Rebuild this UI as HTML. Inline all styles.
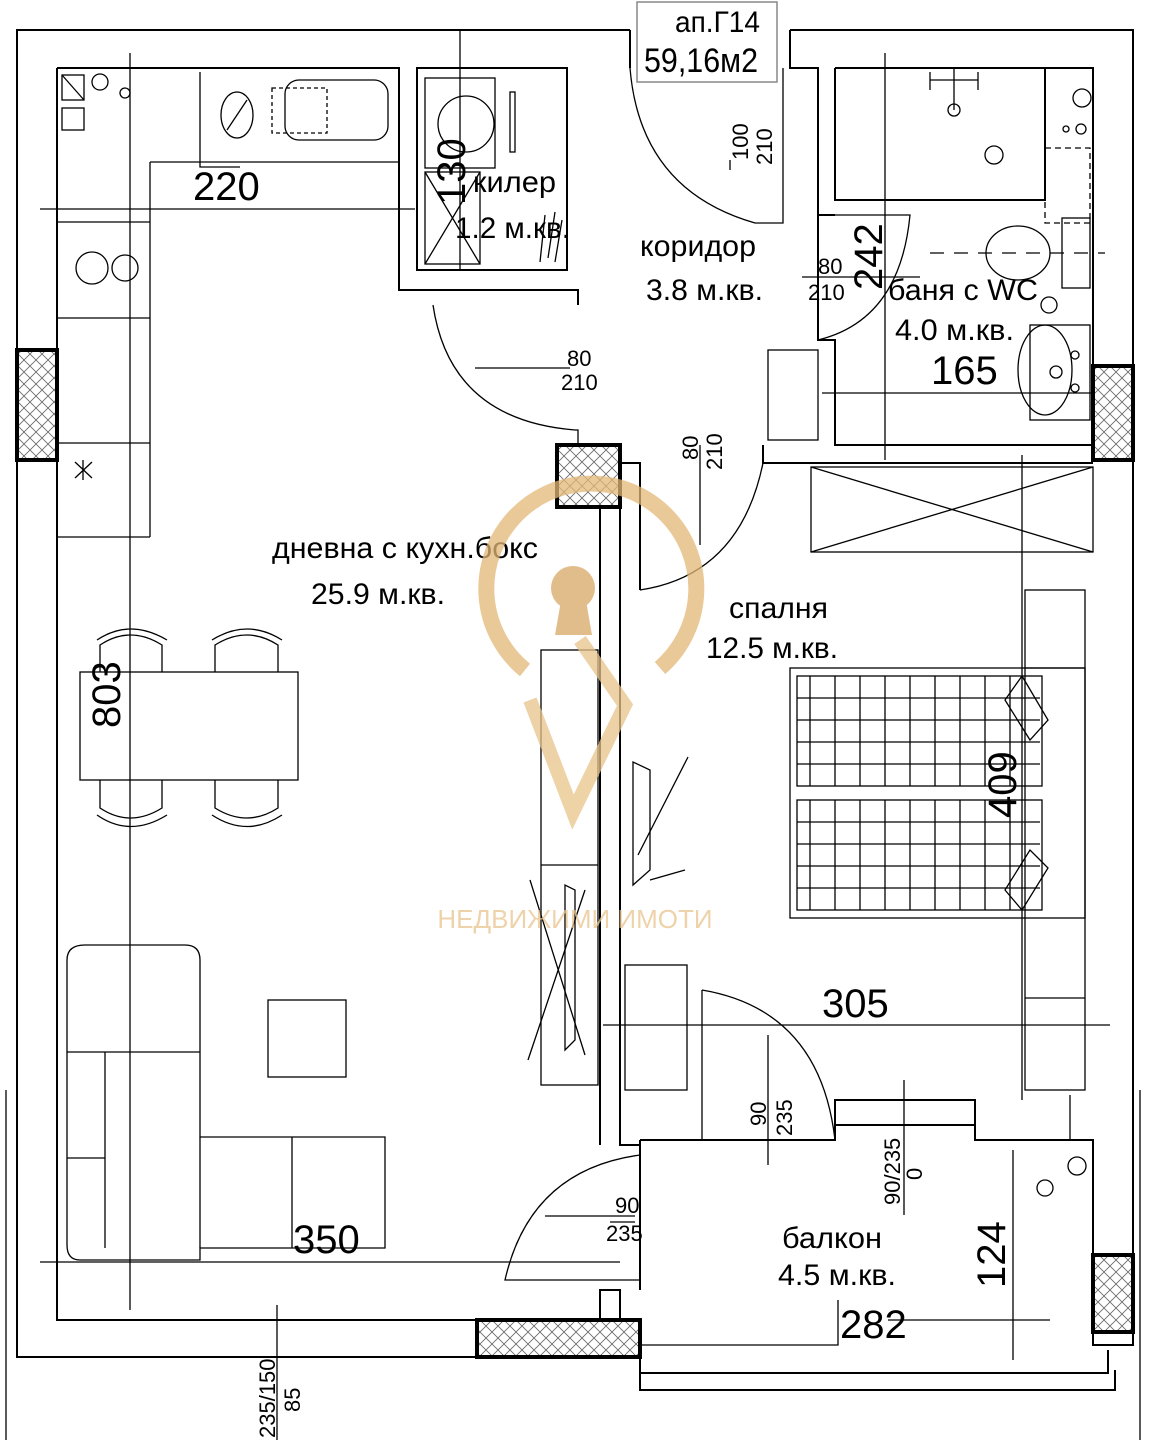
<!DOCTYPE html>
<html><head><meta charset="utf-8"><style>
html,body{margin:0;padding:0;background:#fff;}
svg{display:block;}
text{font-family:"Liberation Sans Narrow","Liberation Sans",sans-serif;fill:#000;}
</style></head><body>
<svg width="1150" height="1440" viewBox="0 0 1150 1440" xmlns="http://www.w3.org/2000/svg">
<defs>
<pattern id="h" width="12" height="12" patternUnits="userSpaceOnUse">
<path d="M0,0L12,12M12,0L0,12" stroke="#666" stroke-width="0.8"/>
</pattern>
</defs>
<g fill="none" stroke="#000" stroke-width="2">
<path d="M630,30H17V1357H477"/>
<path d="M790,30H1133V366"/>
<path d="M1133,460V1255"/>
<path d="M57,68H399V290H578V305"/>
<path d="M57,68V1320H600V1290H620V1320"/>
<path d="M417,68H567V270H417Z"/>
<path d="M630,30V68"/><path d="M790,30V68H818V215H835"/>
<path d="M835,68H1093V366"/>
<path d="M835,68V200H1045V68"/>
<path d="M818,215V340H835V445H1093"/>
<path d="M818,340H835"/>
<path d="M620,445V1145H640"/>
<path d="M600,507V1145"/>
<path d="M763,445V463H1093"/>
<path d="M620,463H640V590"/>
<path d="M640,1140H835V1100H975V1140H1093V1255"/>
<path d="M640,1140V1290"/>
<path d="M835,1125H975"/>
<path d="M640,1357V1390H1115V1370"/>
<path d="M640,1373H1108V1350"/>
<path d="M1093,1332V1345H1133V1332"/>
</g>
<g stroke="#000" stroke-width="4" fill="url(#h)">
<rect x="17" y="350" width="40" height="110"/>
<rect x="1093" y="366" width="40" height="94"/>
<rect x="557" y="445" width="63" height="62"/>
<rect x="477" y="1320" width="163" height="37"/>
<rect x="1093" y="1255" width="40" height="77"/>
</g>
<rect x="637" y="2" width="140" height="80" fill="#fff" stroke="#888" stroke-width="1.5"/>
<text x="675" y="32" font-size="30" textLength="85" lengthAdjust="spacingAndGlyphs">ап.Г14</text>
<text x="644" y="72" font-size="34" textLength="114" lengthAdjust="spacingAndGlyphs">59,16м2</text>
<g fill="none" stroke="#000" stroke-width="1.3">
<path d="M150,162H399M150,162V537M57,222H150M57,318H150M57,443H150M57,537H150"/>
<rect x="62" y="75" width="22" height="25"/><path d="M62,75L84,100"/><rect x="62" y="108" width="22" height="22"/>
<circle cx="100" cy="82" r="8"/><circle cx="125" cy="93" r="5"/>
<path d="M200,72V167H240"/><ellipse cx="237" cy="115" rx="16" ry="23"/><path d="M227,130L247,100"/>
<rect x="285" y="80" width="103" height="60" rx="14"/><rect x="272" y="88" width="55" height="45" stroke-dasharray="4 3"/>
<circle cx="92" cy="268" r="16"/><circle cx="125" cy="268" r="13"/>
<path d="M75,462L92,478M92,462L75,478M83,460V480"/>
<rect x="425" y="78" width="70" height="90"/><circle cx="466" cy="124" r="28"/>
<rect x="510" y="92" width="5" height="60"/>
<rect x="425" y="172" width="55" height="92"/><path d="M425,172L480,264M480,172L425,264"/>
<path d="M545,215L540,262M555,212L548,258M562,220L555,262"/>
<rect x="80" y="672" width="218" height="108"/>
<path d="M100,672V645Q130,625 162,645V672M215,672V645Q247,625 278,645V672"/>
<path d="M100,780V808Q130,828 162,808V780M215,780V808Q247,828 278,808V780"/>
<path d="M97,640Q130,618 167,640M212,640Q247,618 282,640M97,815Q130,838 167,815M212,815Q247,838 282,815"/>
<path d="M67,960Q67,945 85,945H185Q200,945 200,960V1137H385V1248H200V1260H80Q67,1260 67,1245Z"/>
<path d="M105,1052V1248M67,1052H200M67,1158H105M200,1137V1248M292,1137V1248"/>
<rect x="268" y="1000" width="78" height="77"/>
<rect x="541" y="650" width="57" height="435"/><path d="M541,865H598"/>
<path d="M565,885V1050L575,1040V890Z"/><path d="M530,880L585,1055M528,1060L585,890"/>
<path d="M633,762V885L650,870V770Z"/><path d="M638,855L688,757M650,880L685,870"/>
<rect x="811" y="467" width="282" height="85"/><path d="M811,467L1093,552M1093,467L811,552"/>
<rect x="1025" y="590" width="60" height="500"/><path d="M1025,668H1085M1025,998H1085"/>
<rect x="790" y="668" width="295" height="250"/>
<rect x="797" y="676" width="245" height="110"/><rect x="797" y="800" width="245" height="110"/>
<path d="M810,676V786M835,676V786M860,676V786M885,676V786M910,676V786M935,676V786M960,676V786M985,676V786M1010,676V786"/>
<path d="M797,698H1040M797,720H1040M797,742H1040M797,764H1040"/>
<path d="M810,800V910M835,800V910M860,800V910M885,800V910M910,800V910M935,800V910M960,800V910M985,800V910M1010,800V910"/>
<path d="M797,822H1040M797,844H1040M797,866H1040M797,888H1040"/>
<path d="M1005,700L1022,676L1048,720L1030,740Z"/><path d="M1005,890L1022,910L1048,868L1030,850Z"/>
<rect x="625" y="965" width="62" height="125"/>
<rect x="768" y="350" width="50" height="90"/>
<path d="M930,72V90M978,72V90M930,80H978M954,68V110"/><circle cx="954" cy="110" r="6"/>
<circle cx="1082" cy="98" r="9"/><circle cx="1066" cy="129" r="3"/><circle cx="1081" cy="129" r="5"/>
<rect x="1045" y="148" width="45" height="75" stroke-dasharray="6 4"/>
<ellipse cx="1018" cy="253" rx="32" ry="27"/><rect x="1062" y="218" width="28" height="70"/>
<path d="M930,253H1105" stroke-dasharray="14 10"/>
<ellipse cx="1045" cy="370" rx="27" ry="45"/><rect x="1030" y="325" width="60" height="95"/>
<circle cx="1056" cy="372" r="6"/><circle cx="1075" cy="355" r="4"/><circle cx="1075" cy="388" r="4"/>
<circle cx="994" cy="155" r="9"/><circle cx="1049" cy="305" r="8"/><circle cx="1045" cy="1188" r="8"/>
<circle cx="1077" cy="1166" r="9"/>
<path d="M630,68Q640,190 755,223H783V68"/>
<path d="M433,305Q450,420 575,430H578V445"/>
<path d="M835,215H910Q900,320 818,340"/>
<path d="M640,590Q740,575 763,463"/>
<path d="M702,990Q820,1010 835,1140H835"/><path d="M702,990V1140"/>
<path d="M640,1155Q530,1170 505,1280H640"/>
<path d="M40,209H415M130,53V1310M885,53V460M1022,455V1100M603,1025H1110M40,1262H620M838,1300V1345H640M1013,1150V1360M888,1320H1050M475,368H570M802,277H920M700,445V545M768,1035V1165M904,1080V1215M277,1305V1440M6,1090V1440M1140,1090V1440M460,30V270M1070,1095V1140M822,393H1093"/>
<path d="M545,1216H635M610,1222H635M730,160V170"/>
</g>
<g font-size="40">
<text x="193" y="200">220</text>
<text x="822" y="1017">305</text>
<text x="293" y="1253">350</text>
<text x="840" y="1338">282</text>
<text x="931" y="384">165</text>
<text transform="translate(465,205) rotate(-90)">130</text>
<text transform="translate(882,290) rotate(-90)">242</text>
<text transform="translate(120,728) rotate(-90)">803</text>
<text transform="translate(1016,818) rotate(-90)">409</text>
<text transform="translate(1005,1288) rotate(-90)">124</text>
</g>
<g font-size="30" lengthAdjust="spacingAndGlyphs">
<text x="473" y="192" textLength="83" lengthAdjust="spacingAndGlyphs">килер</text>
<text x="455" y="238" textLength="115" lengthAdjust="spacingAndGlyphs">1.2 м.кв.</text>
<text x="640" y="256" textLength="116" lengthAdjust="spacingAndGlyphs">коридор</text>
<text x="646" y="300" textLength="117" lengthAdjust="spacingAndGlyphs">3.8 м.кв.</text>
<text x="888" y="300" textLength="150" lengthAdjust="spacingAndGlyphs">баня с WC</text>
<text x="895" y="340" textLength="119" lengthAdjust="spacingAndGlyphs">4.0 м.кв.</text>
<text x="272" y="558" textLength="266" lengthAdjust="spacingAndGlyphs">дневна с кухн.бокс</text>
<text x="311" y="604" textLength="134" lengthAdjust="spacingAndGlyphs">25.9 м.кв.</text>
<text x="729" y="618" textLength="99" lengthAdjust="spacingAndGlyphs">спалня</text>
<text x="706" y="658" textLength="132" lengthAdjust="spacingAndGlyphs">12.5 м.кв.</text>
<text x="782" y="1248" textLength="100" lengthAdjust="spacingAndGlyphs">балкон</text>
<text x="778" y="1285" textLength="118" lengthAdjust="spacingAndGlyphs">4.5 м.кв.</text>
</g>
<g font-size="22">
<text x="567" y="366">80</text><text x="561" y="390">210</text>
<text x="818" y="274">80</text><text x="808" y="300">210</text>
<text x="615" y="1213">90</text><text x="606" y="1241">235</text>
<text transform="translate(748,160) rotate(-90)">100</text><text transform="translate(772,165) rotate(-90)">210</text>
<text transform="translate(698,460) rotate(-90)">80</text><text transform="translate(722,470) rotate(-90)">210</text>
<text transform="translate(766,1126) rotate(-90)">90</text><text transform="translate(792,1136) rotate(-90)">235</text>
<text transform="translate(900,1205) rotate(-90)">90/235</text><text transform="translate(922,1180) rotate(-90)">0</text>
<text transform="translate(275,1438) rotate(-90)">235/150</text><text transform="translate(300,1412) rotate(-90)">85</text>
</g>
<g opacity="0.75">
<path d="M525,670A105,105 0 1 1 660,668" fill="none" stroke="#e3b877" stroke-width="16"/>
<path d="M530,700L573,812L625,705L580,640" fill="none" stroke="#e8c48a" stroke-width="14"/>
<circle cx="573" cy="588" r="22" fill="#d9a866"/><path d="M562,595L555,635H592L585,595Z" fill="#d9a866"/>
<text x="575" y="928" font-size="26" text-anchor="middle" style="fill:#e9c48e;font-family:'Liberation Sans',sans-serif">НЕДВИЖИМИ ИМОТИ</text>
</g>
</svg>
</body></html>
